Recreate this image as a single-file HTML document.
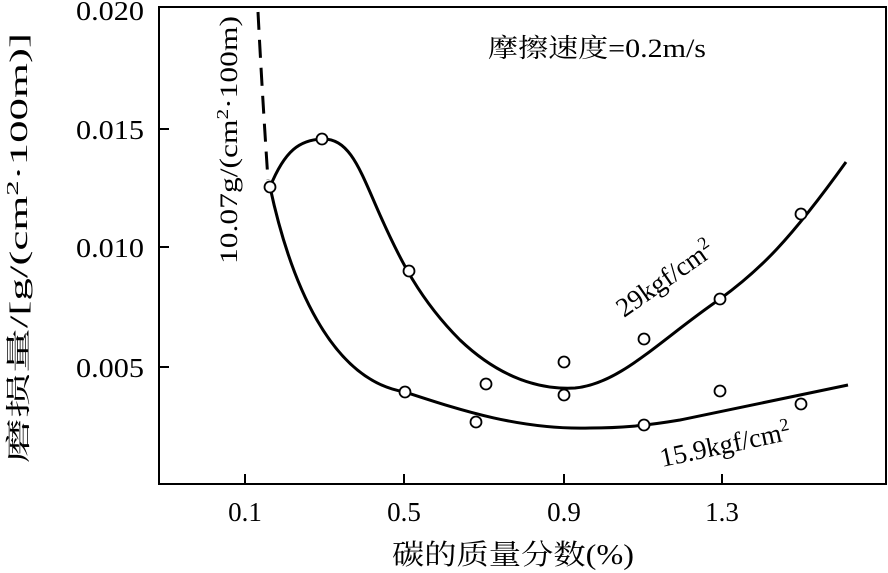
<!DOCTYPE html><html><head><meta charset="utf-8"><style>body{margin:0;background:#fff}svg{display:block}text{font-family:"Liberation Serif","Noto Serif CJK SC",serif;fill:#000}</style></head><body>
<svg width="888" height="573" viewBox="0 0 888 573">
<rect x="159" y="7" width="727" height="477" fill="none" stroke="#000" stroke-width="2"/>
<g stroke="#000" stroke-width="2">
<line x1="159" y1="129" x2="169" y2="129"/><line x1="159" y1="247" x2="169" y2="247"/><line x1="159" y1="367" x2="169" y2="367"/>
<line x1="245" y1="484" x2="245" y2="474"/><line x1="404" y1="484" x2="404" y2="474"/><line x1="564" y1="484" x2="564" y2="474"/><line x1="722" y1="484" x2="722" y2="474"/>
</g>
<g font-size="27" text-anchor="end"><text x="144" y="20" textLength="68" lengthAdjust="spacingAndGlyphs">0.020</text><text x="144" y="139" textLength="68" lengthAdjust="spacingAndGlyphs">0.015</text><text x="144" y="257" textLength="68" lengthAdjust="spacingAndGlyphs">0.010</text><text x="144" y="377" textLength="68" lengthAdjust="spacingAndGlyphs">0.005</text></g>
<g font-size="27" text-anchor="middle"><text x="245" y="521">0.1</text><text x="404" y="521">0.5</text><text x="564" y="521">0.9</text><text x="722" y="521">1.3</text></g>
<text x="513" y="564" font-size="28" text-anchor="middle" textLength="242" lengthAdjust="spacingAndGlyphs">碳的质量分数(%)</text>
<text transform="translate(27,248) rotate(-90)" font-size="25" text-anchor="middle" textLength="430" lengthAdjust="spacingAndGlyphs">磨损量/[g/(cm<tspan font-size="17" dy="-9">2</tspan><tspan dy="9">·100m)]</tspan></text>
<text transform="translate(237,140) rotate(-90)" font-size="25" text-anchor="middle" textLength="248" lengthAdjust="spacingAndGlyphs">10.07g/(cm<tspan font-size="17" dy="-9">2</tspan><tspan dy="9">·100m)</tspan></text>
<text x="488" y="57" font-size="26" textLength="218" lengthAdjust="spacingAndGlyphs">摩擦速度=0.2m/s</text>
<text transform="translate(624,318) rotate(-35)" font-size="27">29kgf/cm<tspan font-size="18" dy="-10">2</tspan></text>
<text transform="translate(662,467) rotate(-12)" font-size="27">15.9kgf/cm<tspan font-size="18" dy="-10">2</tspan></text>
<path d="M258 12 Q262 90 268 180" fill="none" stroke="#000" stroke-width="3" stroke-dasharray="18,10"/>
<g fill="none" stroke="#000" stroke-width="3">
<path d="M270 187 C285 150 300 140 322 139 C350 138 360 170 380 215 C400 260 420 300 460 340 C500 378 540 390 575 388 C620 384 660 340 720 299 C760 270 790 240 846 162"/>
<path d="M270 187 C290 280 330 380 405 392 C460 410 520 430 590 428 C620 428 644 426 680 420 C740 408 800 395 848 385"/>
</g>
<g fill="#fff" stroke="#000" stroke-width="1.8">
<circle cx="270" cy="187" r="5.5"/><circle cx="322" cy="139" r="5.5"/><circle cx="409" cy="271" r="5.5"/><circle cx="564" cy="362" r="5.5"/><circle cx="644" cy="339" r="5.5"/><circle cx="720" cy="299" r="5.5"/><circle cx="801" cy="214" r="5.5"/>
<circle cx="405" cy="392" r="5.5"/><circle cx="486" cy="384" r="5.5"/><circle cx="476" cy="422" r="5.5"/><circle cx="564" cy="395" r="5.5"/><circle cx="644" cy="425" r="5.5"/><circle cx="720" cy="391" r="5.5"/><circle cx="801" cy="404" r="5.5"/>
</g>
</svg></body></html>
